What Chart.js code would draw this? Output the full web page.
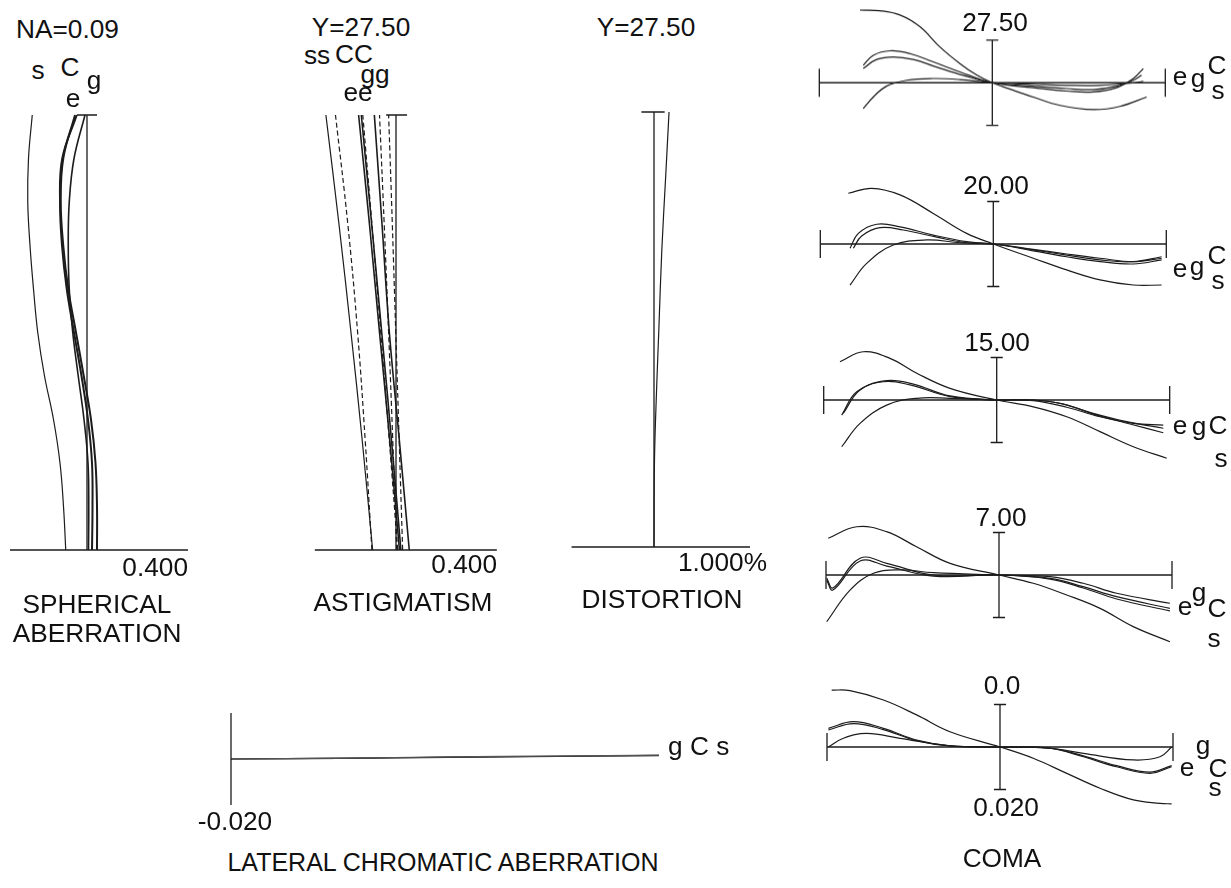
<!DOCTYPE html>
<html>
<head>
<meta charset="utf-8">
<script src="https://cdn.jsdelivr.net/npm/chart.js@4.4.1/dist/chart.umd.min.js"></script>
<style>
  body { margin: 0; background: #fff; width: 1231px; height: 888px; position: relative; overflow: hidden;
         font-family: "Liberation Sans", Arial, sans-serif; }
  canvas { position: absolute; }
  .t { position: absolute; font-size: 25px; line-height: 1; color: #111; white-space: nowrap; }
</style>
</head>
<body>
<script>
// ---- spherical aberration (x: mm, y: relative pupil height) ----
const sphH = [0, 0.1, 0.2, 0.3, 0.4, 0.5, 0.6, 0.7, 0.8, 0.9, 1.0];
const sphS = [-0.085, -0.094, -0.108, -0.134, -0.170, -0.197, -0.214, -0.228, -0.237, -0.234, -0.219];
const sphC = [0.040, 0.040, 0.034, 0.016, -0.013, -0.044, -0.075, -0.095, -0.105, -0.095, -0.048];
const sphE = [0.020, 0.022, 0.020, 0.004, -0.022, -0.052, -0.081, -0.100, -0.108, -0.099, -0.041];
const sphG = [0.006, 0.007, 0.004, -0.012, -0.035, -0.057, -0.071, -0.075, -0.071, -0.052, -0.008];

// ---- astigmatism (solid = sagittal, dashed = meridional) ----
const astH = [0, 0.25, 0.5, 0.75, 1.0];
const astSs = [-0.095, -0.137, -0.183, -0.232, -0.285];
const astSm = [-0.098, -0.125, -0.156, -0.196, -0.246];
const astCs = [0.014, -0.025, -0.067, -0.108, -0.152];
const astCm = [0.007, -0.027, -0.062, -0.098, -0.135];
const astEs = [0.020, -0.018, -0.058, -0.099, -0.141];
const astEm = [0.003, -0.013, -0.030, -0.048, -0.067];
const astGs = [0.054, 0.014, -0.027, -0.057, -0.088];
const astGm = [0.027, 0.013, -0.001, -0.015, -0.030];

// ---- distortion (%) ----
const distH = [0, 0.2, 0.37, 0.5, 0.68, 0.85, 1.0];
const distE = [0, 0.005, 0.028, 0.050, 0.080, 0.120, 0.155];

// ---- lateral chromatic aberration (mm vs image height) ----
const lcaY = [0, 7, 14, 21, 27.5];
const lcaG = [0, 0.0004, 0.0009, 0.0013, 0.0017];
const lcaC = [0, 0.0003, 0.0008, 0.0012, 0.0016];
const lcaS = [0, 0.0003, 0.0007, 0.0011, 0.0015];

// ---- coma (x: relative pupil, y: mm) ----
const c2750sP = [-0.765, -0.650, -0.534, -0.418, -0.303, -0.187, -0.088, 0, 0.121, 0.237, 0.391, 0.584, 0.738, 0.892];
const c2750sV = [0.0341, 0.0338, 0.0318, 0.0263, 0.0168, 0.0090, 0.0035, 0, -0.0035, -0.0067, -0.0106, -0.0126, -0.0111, -0.0067];
const c2750cP = [-0.746, -0.688, -0.591, -0.476, -0.341, -0.187, 0, 0.237, 0.430, 0.584, 0.719, 0.815, 0.873];
const c2750cV = [0.0082, 0.0129, 0.0150, 0.0137, 0.0098, 0.0051, 0, -0.0023, -0.0039, -0.0043, -0.0023, 0.0020, 0.0067];
const c2750eP = [-0.746, -0.669, -0.572, -0.456, -0.322, -0.168, 0, 0.237, 0.430, 0.584, 0.719, 0.815, 0.863];
const c2750eV = [0.0067, 0.0109, 0.0121, 0.0109, 0.0074, 0.0035, 0, -0.0016, -0.0027, -0.0032, -0.0016, 0.0012, 0.0035];
const c2750gP = [-0.746, -0.688, -0.611, -0.495, -0.341, -0.187, 0, 0.237, 0.430, 0.623, 0.815, 0.873];
const c2750gV = [-0.0121, -0.0067, -0.0016, 0.0012, 0.0020, 0.0015, 0, -0.0007, -0.0012, -0.0012, -0.0001, 0.0007];

const c2000sP = [-0.838, -0.703, -0.539, -0.347, -0.154, 0, 0.231, 0.424, 0.617, 0.809, 0.973];
const c2000sV = [0.0239, 0.0262, 0.0231, 0.0144, 0.0050, 0, -0.0067, -0.0122, -0.0169, -0.0193, -0.0193];
const c2000cP = [-0.828, -0.780, -0.674, -0.539, -0.347, -0.154, 0, 0.231, 0.424, 0.617, 0.809, 0.973];
const c2000cV = [-0.0020, 0.0050, 0.0093, 0.0081, 0.0042, 0.0011, 0, -0.0028, -0.0052, -0.0075, -0.0083, -0.0060];
const c2000eP = [-0.809, -0.761, -0.655, -0.520, -0.327, -0.154, 0, 0.231, 0.424, 0.617, 0.809, 0.973];
const c2000eV = [-0.0020, 0.0038, 0.0077, 0.0066, 0.0032, 0.0006, 0, -0.0032, -0.0060, -0.0083, -0.0094, -0.0075];
const c2000gP = [-0.828, -0.732, -0.578, -0.385, -0.192, 0, 0.231, 0.424, 0.617, 0.809, 0.973];
const c2000gV = [-0.0193, -0.0091, -0.0005, 0.0019, 0.0006, 0, -0.0025, -0.0047, -0.0067, -0.0083, -0.0067];

const c1500sP = [-0.906, -0.771, -0.617, -0.462, -0.270, 0, 0.212, 0.405, 0.597, 0.790, 0.983];
const c1500sV = [0.0180, 0.0227, 0.0196, 0.0126, 0.0055, 0, -0.0032, -0.0079, -0.0149, -0.0220, -0.0274];
const c1500cP = [-0.896, -0.809, -0.655, -0.501, -0.270, 0, 0.212, 0.366, 0.558, 0.751, 0.963];
const c1500cV = [-0.0071, 0.0039, 0.0086, 0.0071, 0.0016, 0, 0, -0.0016, -0.0063, -0.0102, -0.0133];
const c1500eP = [-0.887, -0.790, -0.636, -0.482, -0.270, 0, 0.212, 0.385, 0.578, 0.771, 0.963];
const c1500eV = [-0.0063, 0.0047, 0.0091, 0.0075, 0.0019, 0, 0, -0.0019, -0.0071, -0.0113, -0.0154];
const c1500gP = [-0.896, -0.790, -0.636, -0.462, -0.270, 0, 0.212, 0.405, 0.597, 0.790, 0.963];
const c1500gV = [-0.0220, -0.0110, -0.0024, 0.0008, 0.0008, 0, -0.0003, -0.0034, -0.0079, -0.0110, -0.0118];

const c0700sP = [-0.987, -0.823, -0.650, -0.477, -0.283, 0, 0.198, 0.391, 0.584, 0.776, 0.988];
const c0700sV = [0.0173, 0.0227, 0.0204, 0.0133, 0.0055, 0, -0.0039, -0.0094, -0.0157, -0.0243, -0.0314];
const c0700cP = [-0.996, -0.960, -0.803, -0.649, -0.380, 0, 0.295, 0.487, 0.680, 0.988];
const c0700cV = [-0.0014, -0.0061, 0.0079, 0.0055, 0, 0, -0.0016, -0.0055, -0.0102, -0.0157];
const c0700eV = [-0.0024, -0.0071, 0.0066, 0.0042, -0.0005, 0, -0.0019, -0.0061, -0.0113, -0.0169];
const c0700gP = [-0.996, -0.861, -0.726, -0.572, -0.380, 0, 0.295, 0.487, 0.680, 0.988];
const c0700gV = [-0.0220, -0.0071, 0.0008, 0.0024, 0.0011, 0, -0.0008, -0.0039, -0.0086, -0.0133];

const c0000sP = [-0.973, -0.867, -0.674, -0.482, -0.289, 0, 0.192, 0.386, 0.578, 0.771, 0.925, 0.992];
const c0000sV = [0.0268, 0.0265, 0.0221, 0.0151, 0.0072, 0, -0.0053, -0.0124, -0.0194, -0.0249, -0.0265, -0.0268];
const c0000cP = [-0.992, -0.848, -0.674, -0.482, -0.289, 0, 0.289, 0.482, 0.674, 0.867, 0.992];
const c0000cV = [0.0088, 0.0119, 0.0088, 0.0033, 0.0006, 0, -0.0006, -0.0046, -0.0093, -0.0124, -0.0093];
const c0000eV = [0.0080, 0.0110, 0.0082, 0.0030, 0.0005, 0, -0.0005, -0.0042, -0.0088, -0.0118, -0.0088];
const c0000gP = [-0.992, -0.905, -0.771, -0.578, -0.289, 0, 0.289, 0.482, 0.771, 0.925, 0.992];
const c0000gV = [0, 0.0041, 0.0064, 0.0041, 0.0005, 0, -0.0006, -0.0030, -0.0061, -0.0046, 0];

// ---------------------------------------------------------------
const INK = '#1c1c1c';

// axis lines, end caps etc. given in data units, drawn through the scales
const framePlugin = {
  id: 'frame',
  afterDatasetsDraw(chart, args, opts) {
    const { ctx, scales: { x, y } } = chart;
    ctx.save();
    ctx.strokeStyle = INK;
    ctx.lineWidth = 1.3;
    ctx.beginPath();
    (opts.segs || []).forEach(s => {
      ctx.moveTo(x.getPixelForValue(s[0]), y.getPixelForValue(s[1]));
      ctx.lineTo(x.getPixelForValue(s[2]), y.getPixelForValue(s[3]));
    });
    ctx.stroke();
    ctx.restore();
  }
};

// vertical curves: x = aberration, y = height
function vline(h, v, extra) {
  return Object.assign({ data: h.map((y, i) => ({ x: v[i], y })) }, extra || {});
}
// horizontal curves: x = pupil / height, y = aberration
function hline(p, v, extra) {
  return Object.assign({ data: p.map((x, i) => ({ x, y: v[i] })) }, extra || {});
}

// box = [left, top, width, height] in page px; value -> px: ox + sx*x, oy - sy*y
function panel(box, ox, sx, oy, sy, datasets, segs) {
  const c = document.createElement('canvas');
  Object.assign(c.style, { left: box[0] + 'px', top: box[1] + 'px', width: box[2] + 'px', height: box[3] + 'px' });
  c.width = box[2]; c.height = box[3];
  document.body.appendChild(c);
  datasets.forEach(d => {
    d.showLine = true; d.pointRadius = 0; d.fill = false;
    d.borderColor = d.borderColor || INK;
    d.borderWidth = d.borderWidth || 1.2;
    d.tension = 0.4;
  });
  return new Chart(c, {
    type: 'scatter',
    data: { datasets },
    options: {
      responsive: false, animation: false, events: [],
      layout: { padding: 0 },
      scales: {
        x: { type: 'linear', display: false, min: (box[0] - ox) / sx, max: (box[0] + box[2] - ox) / sx },
        y: { type: 'linear', display: false, min: (oy - box[1] - box[3]) / sy, max: (oy - box[1]) / sy }
      },
      plugins: { legend: { display: false }, tooltip: { enabled: false }, frame: { segs } }
    },
    plugins: [framePlugin]
  });
}

function text(str, x, y, align, sx) {
  const d = document.createElement('div');
  const k = sx || 1.05;
  d.className = 't';
  d.textContent = str;
  d.style.left = x + 'px';
  d.style.top = y + 'px';
  if (align === 'l') { d.style.transformOrigin = '0 50%'; d.style.transform = 'translate(0,-50%) scaleX(' + k + ')'; }
  else if (align === 'r') { d.style.transformOrigin = '100% 50%'; d.style.transform = 'translate(-100%,-50%) scaleX(' + k + ')'; }
  else { d.style.transform = 'translate(-50%,-50%) scaleX(' + k + ')'; }
  document.body.appendChild(d);
}

// ---- spherical aberration ----
panel([0, 95, 205, 470], 87, 250, 550, 435, [
  vline(sphH, sphS),
  vline(sphH, sphC, { borderWidth: 2 }),
  vline(sphH, sphE, { borderWidth: 2 }),
  vline(sphH, sphG, { borderWidth: 1.6 })
], [[-0.308, 0, 0.404, 0], [0, 0, 0, 1], [-0.04, 1, 0.04, 1]]);

// ---- astigmatism ----
const dash = { borderDash: [5, 3] };
panel([300, 95, 210, 470], 396, 246, 550, 435, [
  vline(astH, astSs), vline(astH, astSm, dash),
  vline(astH, astCs, { borderWidth: 1.6 }), vline(astH, astCm, dash),
  vline(astH, astEs, { borderWidth: 1.6 }), vline(astH, astEm, dash),
  vline(astH, astGs, { borderWidth: 1.6 }), vline(astH, astGm, dash)
], [[-0.33, 0, 0.41, 0], [0, 0, 0, 1], [-0.04, 1, 0.045, 1]]);

// ---- distortion ----
panel([560, 95, 210, 470], 654, 97, 547, 435, [
  vline(distH, distE)
], [[-0.85, 0, 0.99, 0], [0, 0, 0, 1], [-0.13, 1, 0.11, 1]]);

// ---- lateral chromatic aberration ----
panel([215, 700, 470, 120], 231, 428 / 27.5, 759, 2300, [
  hline(lcaY, lcaG, { borderColor: '#555' }),
  hline(lcaY, lcaC, { borderColor: '#333' }),
  hline(lcaY, lcaS, { borderColor: '#222' })
], [[0, -0.02, 0, 0.02]]);

// ---- coma ----
const comaFrame = [[-1, 0, 1, 0], [-1, -0.0066, -1, 0.0066], [1, -0.0066, 1, 0.0066],
                   [0, -0.02, 0, 0.02], [-0.035, 0.02, 0.035, 0.02], [-0.035, -0.02, 0.035, -0.02]];
function coma(cx, cy, sets) {
  const top = Math.max(0, cy - 90);
  panel([800, top, 400, cy + 90 - top], cx, 173, cy, 2125, sets, comaFrame);
}
coma(992.3, 82.5, [hline(c2750sP, c2750sV), hline(c2750cP, c2750cV), hline(c2750eP, c2750eV), hline(c2750gP, c2750gV)]);
coma(993.3, 244, [hline(c2000sP, c2000sV), hline(c2000cP, c2000cV), hline(c2000eP, c2000eV), hline(c2000gP, c2000gV)]);
coma(996.7, 400, [hline(c1500sP, c1500sV), hline(c1500cP, c1500cV), hline(c1500eP, c1500eV), hline(c1500gP, c1500gV)]);
coma(999, 575, [hline(c0700sP, c0700sV), hline(c0700cP, c0700cV), hline(c0700cP, c0700eV), hline(c0700gP, c0700gV)]);
coma(1000, 747, [hline(c0000sP, c0000sV), hline(c0000cP, c0000cV), hline(c0000cP, c0000eV), hline(c0000gP, c0000gV)]);

// ---- texts ----
text('NA=0.09', 16, 29, 'l');
text('s', 38, 70); text('C', 70, 67); text('e', 73, 98); text('g', 94, 80);
text('0.400', 188, 567, 'r');
text('SPHERICAL', 97, 604); text('ABERRATION', 97, 633);

text('Y=27.50', 361, 27);
text('ss', 317, 55); text('CC', 354, 54); text('gg', 375, 74); text('ee', 358, 92);
text('0.400', 497, 564, 'r');
text('ASTIGMATISM', 403, 602);

text('Y=27.50', 646, 27);
text('1.000%', 767, 562, 'r');
text('DISTORTION', 662, 599);

text('g C s', 668, 746, 'l');
text('-0.020', 235, 821);
text('LATERAL CHROMATIC ABERRATION', 443, 862, 'c', 1.0);

text('27.50', 995, 22); text('20.00', 996, 185); text('15.00', 997, 342);
text('7.00', 1001, 517); text('0.0', 1002, 685); text('0.020', 1006, 807);
text('COMA', 1002, 858);

text('e', 1180, 76); text('g', 1198, 78); text('C', 1217, 65); text('s', 1218, 90);
text('e', 1180, 268); text('g', 1197, 266); text('C', 1217, 255); text('s', 1218, 280);
text('e', 1180, 425); text('g', 1199, 426); text('C', 1218, 425); text('s', 1221, 458);
text('g', 1199, 592); text('e', 1185, 606); text('C', 1217, 608); text('s', 1214, 638);
text('g', 1203, 745); text('e', 1187, 767); text('C', 1218, 768); text('s', 1215, 787);
</script>
</body>
</html>
